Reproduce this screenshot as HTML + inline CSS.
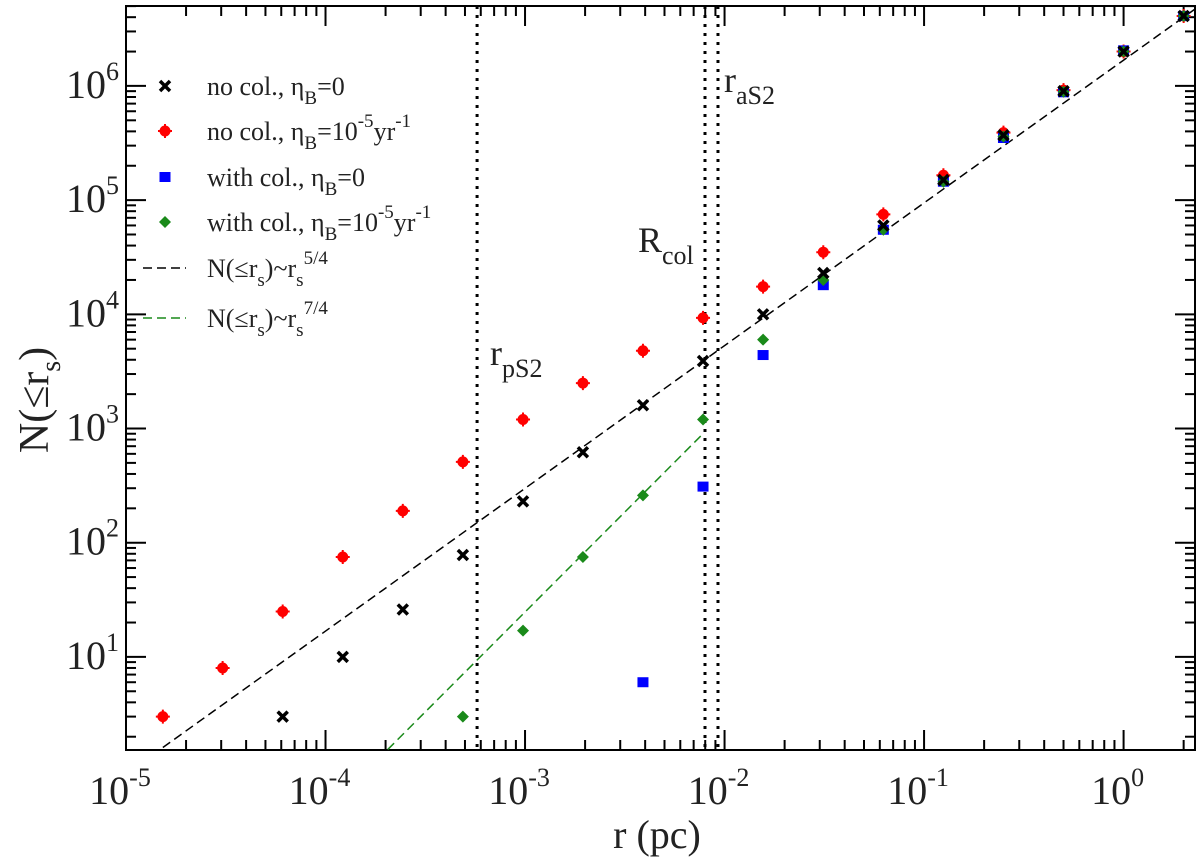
<!DOCTYPE html>
<html><head><meta charset="utf-8"><style>
body{margin:0;background:#fff}
svg{display:block;font-family:"Liberation Serif",serif}
</style></head><body>
<svg id="c" width="1200" height="863"></svg>
<script>
const xsA=[6.1e-5,1.22e-4,2.44e-4,4.88e-4,9.77e-4,1.95e-3,3.9e-3,7.8e-3,0.0156,0.03125,0.0625,0.125,0.25,0.5,1,2];
const noColEta0=[3,10,26,78,230,620,1600,3900,10000,23000,60000,150000,370000,900000,2.0e6,4.1e6];
const xsR=[1.53e-5,3.05e-5,6.1e-5,1.22e-4,2.44e-4,4.88e-4,9.77e-4,1.95e-3,3.9e-3,7.8e-3,0.0156,0.03125,0.0625,0.125,0.25,0.5,1,2];
const noColEta5=[3,8,25,75,190,510,1200,2500,4800,9300,17500,35000,75000,165000,390000,920000,2.0e6,4.1e6];
const xsB=[3.9e-3,7.8e-3,0.0156,0.03125,0.0625,0.125,0.25,0.5,1,2];
const withColEta0=[6,310,4400,18000,55000,145000,350000,880000,2.05e6,4.1e6];
const xsG=[4.88e-4,9.77e-4,1.95e-3,3.9e-3,7.8e-3,0.0156,0.03125,0.0625,0.125,0.25,0.5,1,2];
const withColEta5=[3,17,75,260,1200,6000,20000,55000,145000,360000,890000,2.0e6,4.1e6];
const vlines=[5.75e-4,7.98e-3,9.27e-3];
const xTickExps=[-5,-4,-3,-2,-1,0];
const yTickExps=[1,2,3,4,5,6];
const fit54=[1.53e-5,2.28,3900,7.8e-3,1.25];
const fit74=[2.05e-4,7.8e-3,900,7.8e-3,1.75];

const L=126,R=1195,T=6,B=750;
const xmin=-5,xmax=Math.log10(2.28),ymin=Math.log10(1.53),ymax=6.70;
const X=v=>L+(Math.log10(v)-xmin)/(xmax-xmin)*(R-L);
const Y=v=>B-(Math.log10(v)-ymin)/(ymax-ymin)*(B-T);
const NS='http://www.w3.org/2000/svg',svg=document.getElementById('c');
function mk(t,a,p){const e=document.createElementNS(NS,t);for(const k in a)e.setAttribute(k,a[k]);(p||svg).appendChild(e);return e;}

const fr=mk('rect',{x:L,y:T,width:R-L,height:B-T,fill:'none',stroke:'#000','stroke-width':2});



const tg=mk('g',{stroke:'#000','stroke-width':2});


for(let e=-5;e<=0;e++)for(let m=1;m<=9;m++){const v=m*Math.pow(10,e);if(v>2.28)continue;const x=X(v),len=m==1?20:10;
 mk('line',{x1:x,y1:B,x2:x,y2:B-len},tg);mk('line',{x1:x,y1:T,x2:x,y2:T+len},tg);}
for(let e=0;e<=6;e++)for(let m=1;m<=9;m++){const v=m*Math.pow(10,e);if(v<1.53||v>5e6)continue;const y=Y(v),len=m==1?20:10;
 mk('line',{x1:L,y1:y,x2:L+len,y2:y},tg);mk('line',{x1:R,y1:y,x2:R-len,y2:y},tg);}

xTickExps.forEach(e=>{const t=mk('text',{x:X(Math.pow(10,e))-6,y:804,'font-size':40,'text-anchor':'middle',fill:'#222'});
 
 
 t.innerHTML='10<tspan dy="-18" font-size="26">'+e+'</tspan>';});
yTickExps.forEach(e=>{const t=mk('text',{x:66,y:Y(Math.pow(10,e))+12,'font-size':40,fill:'#222'});
 
 
 t.innerHTML='10<tspan dy="-18" font-size="26">'+e+'</tspan>';});

const xt=mk('text',{x:657,y:848,'font-size':40,'text-anchor':'middle',fill:'#222'});


xt.textContent='r (pc)';
const yt=mk('text',{transform:'translate(48,400) rotate(-90)','font-size':42,'text-anchor':'middle',fill:'#222'});


yt.innerHTML='N(≤r<tspan dy="12" font-size="28">s</tspan><tspan dy="-12">)</tspan>';

vlines.forEach(v=>{const l=mk('line',{x1:X(v),y1:T,x2:X(v),y2:B,stroke:'#000','stroke-width':3,'stroke-dasharray':'3,6'});
 
 });
function lab(x,y,main,sub,name){const t=mk('text',{x:x,y:y,'font-size':36,fill:'#222'});
 
 
 t.innerHTML=main+'<tspan dy="12" font-size="26">'+sub+'</tspan>';}
lab(490,365,'r','pS2','rpS2-label');
lab(638,252,'R','col','rcol-label');
lab(724,92,'r','aS2','ras2-label');

function fit(f,col,name){const [a,b,n0,r0,s]=f;const y=r=>n0*Math.pow(r/r0,s);
 const l=mk('line',{x1:X(a),y1:Y(y(a)),x2:X(b),y2:Y(y(b)),stroke:col,'stroke-width':1.5,'stroke-dasharray':'9,5'});
 
 }
fit(fit54,'#000','fit-line-5-4');
fit(fit74,'#1a8a1a','fit-line-7-4');

function marker(type,x,y,g){
 if(type=='x'){mk('path',{d:`M${x-5},${y-5}L${x+5},${y+5}M${x-5},${y+5}L${x+5},${y-5}`,stroke:'#000','stroke-width':3.5},g);}
 else if(type=='o'){mk('circle',{cx:x,cy:y,r:5.5,fill:'#f00'},g);mk('path',{d:`M${x-7},${y}L${x+7},${y}M${x},${y-7}L${x},${y+7}`,stroke:'#f00','stroke-width':2},g);}
 else if(type=='s'){mk('rect',{x:x-5.5,y:y-5,width:11,height:10,fill:'#00f'},g);}
 else {mk('path',{d:`M${x},${y-6}L${x+6},${y}L${x},${y+6}L${x-6},${y}Z`,fill:'#1a8a1a'},g);}
}
function series(xs,ys,type,name){const g=mk('g',{});
 
 
 xs.forEach((v,i)=>marker(type,X(v),Y(ys[i]),g));}
series(xsR,noColEta5,'o','series-no-col-eta-1e-5');
series(xsB,withColEta0,'s','series-with-col-eta-0');
series(xsG,withColEta5,'d','series-with-col-eta-1e-5');
series(xsA,noColEta0,'x','series-no-col-eta-0');

const lg=mk('g',{});


const ent=[['x',86,'no col., η<tspan dy="9" font-size="19">B</tspan><tspan dy="-9">=0</tspan>'],
['o',131,'no col., η<tspan dy="9" font-size="19">B</tspan><tspan dy="-9">=10</tspan><tspan dy="-13" font-size="19">-5</tspan><tspan dy="13">yr</tspan><tspan dy="-13" font-size="19">-1</tspan>'],
['s',177,'with col., η<tspan dy="9" font-size="19">B</tspan><tspan dy="-9">=0</tspan>'],
['d',222,'with col., η<tspan dy="9" font-size="19">B</tspan><tspan dy="-9">=10</tspan><tspan dy="-13" font-size="19">-5</tspan><tspan dy="13">yr</tspan><tspan dy="-13" font-size="19">-1</tspan>'],
['k',268,'N(≤r<tspan dy="9" font-size="19">s</tspan><tspan dy="-9">)~r</tspan><tspan dy="9" font-size="19">s</tspan><tspan dy="-22" font-size="19">5/4</tspan>'],
['g',318,'N(≤r<tspan dy="9" font-size="19">s</tspan><tspan dy="-9">)~r</tspan><tspan dy="9" font-size="19">s</tspan><tspan dy="-22" font-size="19">7/4</tspan>']];
ent.forEach(([t,y,h])=>{const g=mk('g',{},lg);
 
 
 if(t=='k'||t=='g')mk('line',{x1:143,y1:y,x2:186,y2:y,stroke:t=='k'?'#000':'#1a8a1a','stroke-width':1.5,'stroke-dasharray':'9,5'},g);
 else marker(t,165,y,g);
 const tx=mk('text',{x:207,y:y+9,'font-size':26,fill:'#222'},g);tx.innerHTML=h;});
</script>
</body></html>
